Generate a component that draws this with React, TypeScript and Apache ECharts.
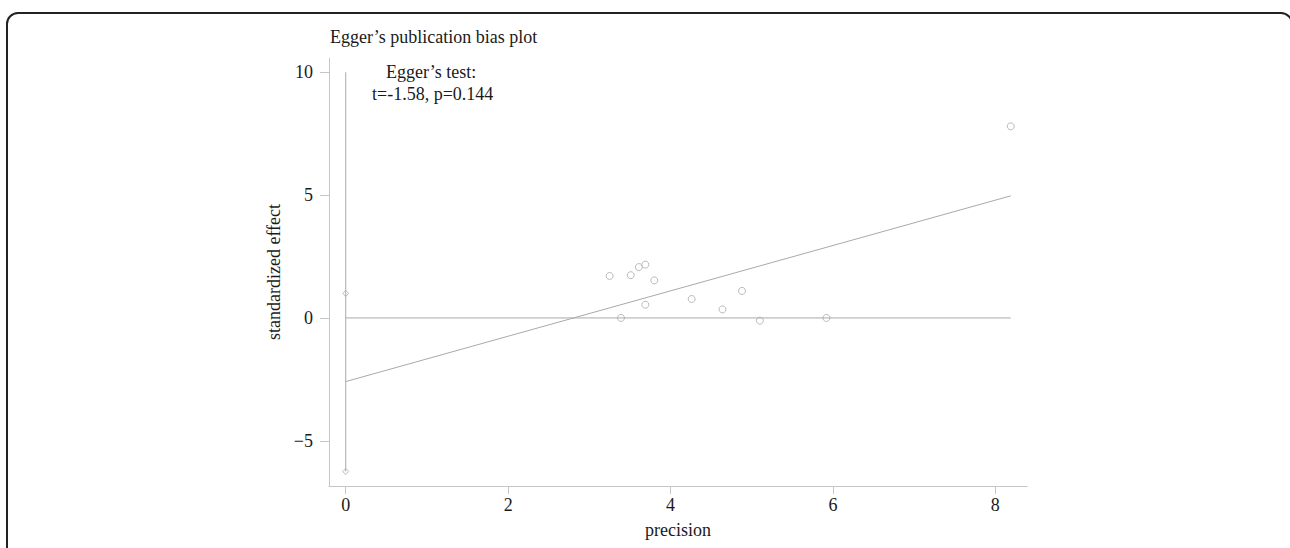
import React, { useEffect, useRef } from "react";
import * as echarts from "echarts";

const precision = [3.25, 3.51, 3.61, 3.69, 3.80, 3.69, 3.39, 4.26, 4.64, 4.88, 5.10, 5.92, 8.19];
const effect = [1.71, 1.74, 2.07, 2.17, 1.53, 0.54, 0.0, 0.77, 0.35, 1.10, -0.11, 0.0, 7.80];

const regX = [0, 8.19];
const regY = [-2.59, 4.97];
const zeroX = [0, 8.19];
const zeroY = [0, 0];
const ciX = [0, 0];
const ciY = [10, -6.25];
const ciMarkX = [0, 0];
const ciMarkY = [1.0, -6.25];

const xTicks = [0, 2, 4, 6, 8];
const yTicks = [-5, 0, 5, 10];

const titleText = "Egger\u2019s publication bias plot";
const testLabel = "Egger\u2019s test:";
const testStat = "t=-1.58, p=0.144";
const xName = "precision";
const yName = "standardized effect";

const FONT = "'Liberation Serif', 'Times New Roman', serif";
const MARK = "#a9a9a9";
const AXIS = "#c6c6c6";
const FS = 18;

const zip = (xs: number[], ys: number[]) => xs.map((x, i) => [x, ys[i]]);

export default function App() {
  const ref = useRef<HTMLDivElement>(null);
  useEffect(() => {
    if (!ref.current) return;
    const chart = echarts.init(ref.current, null, { renderer: "svg" });
    chart.setOption({
      animation: false,
      backgroundColor: "#ffffff",
      grid: { left: 329, right: 263, top: 58, bottom: 62, containLabel: false },
      xAxis: {
        type: "value",
        min: -0.206,
        max: 8.39,
        name: xName,
        nameLocation: "middle",
        nameGap: 35,
        nameTextStyle: { fontFamily: FONT, fontSize: FS, color: "#1a1a1a" },
        axisLine: { show: true, onZero: false, lineStyle: { color: AXIS, width: 1 } },
        axisTick: { show: true, length: 8, customValues: xTicks, lineStyle: { color: AXIS } },
        axisLabel: {
          customValues: xTicks,
          margin: 10,
          fontFamily: FONT,
          fontSize: FS,
          color: "#1a1a1a",
        },
        splitLine: { show: false },
      },
      yAxis: {
        type: "value",
        min: -6.84,
        max: 10.58,
        name: yName,
        nameLocation: "middle",
        nameGap: 39,
        nameRotate: 90,
        nameTextStyle: { fontFamily: FONT, fontSize: FS, color: "#1a1a1a" },
        axisLine: { show: true, onZero: false, lineStyle: { color: AXIS, width: 1 } },
        axisTick: { show: true, length: 9, customValues: yTicks, lineStyle: { color: AXIS } },
        axisLabel: {
          customValues: yTicks,
          margin: 16,
          fontFamily: FONT,
          fontSize: FS,
          color: "#1a1a1a",
          formatter: (v: number) => (v < 0 ? "\u2212" + Math.abs(v) : String(v)),
        },
        splitLine: { show: false },
      },
      series: [
        {
          type: "line",
          data: zip(ciX, ciY),
          symbol: "none",
          lineStyle: { color: MARK, width: 1 },
          silent: true,
        },
        {
          type: "line",
          data: zip(zeroX, zeroY),
          symbol: "none",
          lineStyle: { color: MARK, width: 1 },
          silent: true,
        },
        {
          type: "line",
          data: zip(regX, regY),
          symbol: "none",
          lineStyle: { color: MARK, width: 1 },
          silent: true,
        },
        {
          type: "scatter",
          data: zip(ciMarkX, ciMarkY),
          symbol: "diamond",
          symbolSize: 6,
          itemStyle: { color: "#ffffff", borderColor: MARK, borderWidth: 1 },
        },
        {
          type: "scatter",
          data: zip(precision, effect),
          symbol: "circle",
          symbolSize: 7,
          itemStyle: { color: "#ffffff", borderColor: MARK, borderWidth: 1 },
        },
      ],
      graphic: [
        {
          type: "rect",
          shape: { x: 7, y: 13, width: 1285, height: 620, r: 11 },
          style: { fill: "none", stroke: "#222222", lineWidth: 2 },
          silent: true,
        },
        {
          type: "text",
          x: 330,
          y: 37,
          style: {
            text: titleText,
            fontFamily: FONT,
            fontSize: FS,
            fill: "#1a1a1a",
            textVerticalAlign: "middle",
          },
        },
        {
          type: "text",
          x: 386,
          y: 72,
          style: {
            text: testLabel,
            fontFamily: FONT,
            fontSize: FS,
            fill: "#1a1a1a",
            textVerticalAlign: "middle",
          },
        },
        {
          type: "text",
          x: 372,
          y: 94,
          style: {
            text: testStat,
            fontFamily: FONT,
            fontSize: FS,
            fill: "#1a1a1a",
            textVerticalAlign: "middle",
          },
        },
      ],
    });
    return () => chart.dispose();
  }, []);
  return (
    <div
      ref={ref}
      style={{ position: "fixed", left: 0, top: 0, width: 1290, height: 548, background: "#fff" }}
    />
  );
}
